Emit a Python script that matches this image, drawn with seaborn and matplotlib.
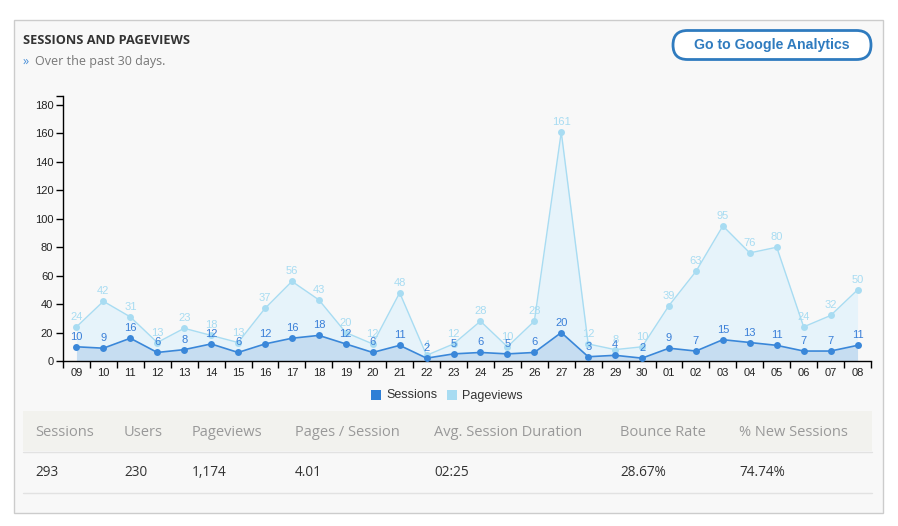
import matplotlib
matplotlib.use("Agg")
import matplotlib.pyplot as plt
from matplotlib.patches import Rectangle, FancyBboxPatch
import seaborn as sns
import pandas as pd
import numpy as np

days = ["09", "10", "11", "12", "13", "14", "15", "16", "17", "18", "19", "20", "21", "22",
        "23", "24", "25", "26", "27", "28", "29", "30", "01", "02", "03", "04", "05", "06", "07", "08"]
sessions = [10, 9, 16, 6, 8, 12, 6, 12, 16, 18, 12, 6, 11, 2, 5, 6, 5, 6, 20, 3, 4, 2, 9, 7, 15, 13, 11, 7, 7, 11]
pageviews = [24, 42, 31, 13, 23, 18, 13, 37, 56, 43, 20, 12, 48, 4, 12, 28, 10, 28, 161, 12, 8, 10, 39, 63, 95, 76, 80, 24, 32, 50]
y_ticks = [0, 20, 40, 60, 80, 100, 120, 140, 160, 180]

table_headers = ["Sessions", "Users", "Pageviews", "Pages / Session", "Avg. Session Duration", "Bounce Rate", "% New Sessions"]
table_values = ["293", "230", "1,174", "4.01", "02:25", "28.67%", "74.74%"]

title = "SESSIONS AND PAGEVIEWS"
subtitle = "Over the past 30 days."
button_text = "Go to Google Analytics"

sns.set_theme(style="white")
plt.rcParams["font.family"] = ["Liberation Sans", "DejaVu Sans"]

W, H = 898, 526
fig = plt.figure(figsize=(W / 100, H / 100), dpi=100)
fig.patch.set_facecolor("white")

# background overlay axes in pixel coords
bg = fig.add_axes([0, 0, 1, 1], zorder=0)
bg.set_xlim(0, W)
bg.set_ylim(H, 0)
bg.axis("off")

bg.add_patch(Rectangle((13.5, 19.5), 869, 493, facecolor="#f8f8f8", edgecolor="#cccccc", lw=1))
bg.text(23, 40, title, fontsize=9.2, fontweight="bold", color="#333333",
        family=["Open Sans", "DejaVu Sans"], va="center", ha="left")
bg.text(23, 61, "»", fontsize=9, color="#4a90d9", family=["Open Sans", "DejaVu Sans"], va="center", ha="left")
bg.text(35, 61, subtitle, fontsize=9, color="#777777", family=["Open Sans", "DejaVu Sans"], va="center", ha="left")

bg.add_patch(FancyBboxPatch((673, 30.5), 198, 29, boxstyle="round,pad=0,rounding_size=14.5",
                            facecolor="white", edgecolor="#2f7bbf", lw=2))
bg.text(772, 45.5, button_text, fontsize=10.2, fontweight="bold", color="#2f7bbf",
        va="center", ha="center")

# legend
bg.add_patch(Rectangle((371, 390), 10, 10, facecolor="#2e7fd6", edgecolor="none"))
bg.text(386, 395.5, "Sessions", fontsize=9, color="#333333", va="center", ha="left")
bg.add_patch(Rectangle((447, 390), 10, 10, facecolor="#a8dcf2", edgecolor="none"))
bg.text(462, 395.5, "Pageviews", fontsize=9, color="#333333", va="center", ha="left")

# table
bg.add_patch(Rectangle((23, 411), 849, 40, facecolor="#f2f2ee", edgecolor="none"))
bg.plot([23, 872], [451.5, 451.5], color="#e2e2e2", lw=1)
bg.plot([23, 872], [492.5, 492.5], color="#e2e2e2", lw=1)
col_x = [35, 124, 192, 295, 434, 620, 739]
for cx, h, v in zip(col_x, table_headers, table_values):
    bg.text(cx, 432, h, fontsize=10.5, color="#999999", family=["Open Sans", "DejaVu Sans"], va="center", ha="left")
    bg.text(cx, 472, v, fontsize=9.8, color="#333333", family=["Open Sans", "DejaVu Sans"], va="center", ha="left")

# chart axes
x0, x1, y0, y1 = 63, 871, 361, 96
ax = fig.add_axes([x0 / W, 1 - y0 / H, (x1 - x0) / W, (y0 - y1) / H], zorder=1)
ax.set_facecolor("none")
ymax = 180 * (y0 - y1) / (361 - 105)
ax.set_ylim(0, ymax)
ax.set_xlim(-0.5, len(days) - 0.5)

df = pd.DataFrame({"x": np.arange(len(days)), "day": days, "Sessions": sessions, "Pageviews": pageviews})

pv_line = "#a8dcf2"
ss_line = "#3a87d9"
ax.fill_between(df["x"], df["Pageviews"], color="#e6f3fa", lw=0, zorder=1)
ax.fill_between(df["x"], df["Sessions"], color="#c6ddf1", lw=0, zorder=2)
sns.lineplot(data=df, x="x", y="Pageviews", ax=ax, color=pv_line, lw=1, marker="o",
             markersize=5, markeredgewidth=0, markerfacecolor=pv_line, zorder=3)
sns.lineplot(data=df, x="x", y="Sessions", ax=ax, color=ss_line, lw=1.2, marker="o",
             markersize=5, markeredgewidth=0, markerfacecolor=ss_line, zorder=4)

for xi, v in zip(df["x"], pageviews):
    ax.annotate(str(v), (xi, v), xytext=(0, 5), textcoords="offset pixels", ha="center", va="bottom",
                fontsize=8, color="#a8dcf2", zorder=5)
for xi, v in zip(df["x"], sessions):
    ax.annotate(str(v), (xi, v), xytext=(0, 5), textcoords="offset pixels", ha="center", va="bottom",
                fontsize=8, color="#3a7fd8", zorder=6)

for s in ["top", "right"]:
    ax.spines[s].set_visible(False)
for s in ["left", "bottom"]:
    ax.spines[s].set_color("black")
    ax.spines[s].set_linewidth(1)

ax.set_yticks(y_ticks)
ax.set_yticklabels([str(t) for t in y_ticks])
ax.set_yticks([ymax], minor=True)
ax.set_xticks(df["x"])
ax.set_xticklabels(days)
ax.set_xticks(np.arange(len(days) + 1) - 0.5, minor=True)
ax.tick_params(axis="y", which="both", direction="out", length=5, width=1, color="black",
               labelsize=8, labelcolor="#222222", left=True, pad=2)
ax.tick_params(axis="x", which="major", length=0, labelsize=8, labelcolor="#222222", pad=5)
ax.tick_params(axis="x", which="minor", direction="out", length=5, width=1, color="black", bottom=True)
ax.set_xlabel("")
ax.set_ylabel("")
ax.grid(False)

fig.savefig("out.png", dpi=100, facecolor="white")
